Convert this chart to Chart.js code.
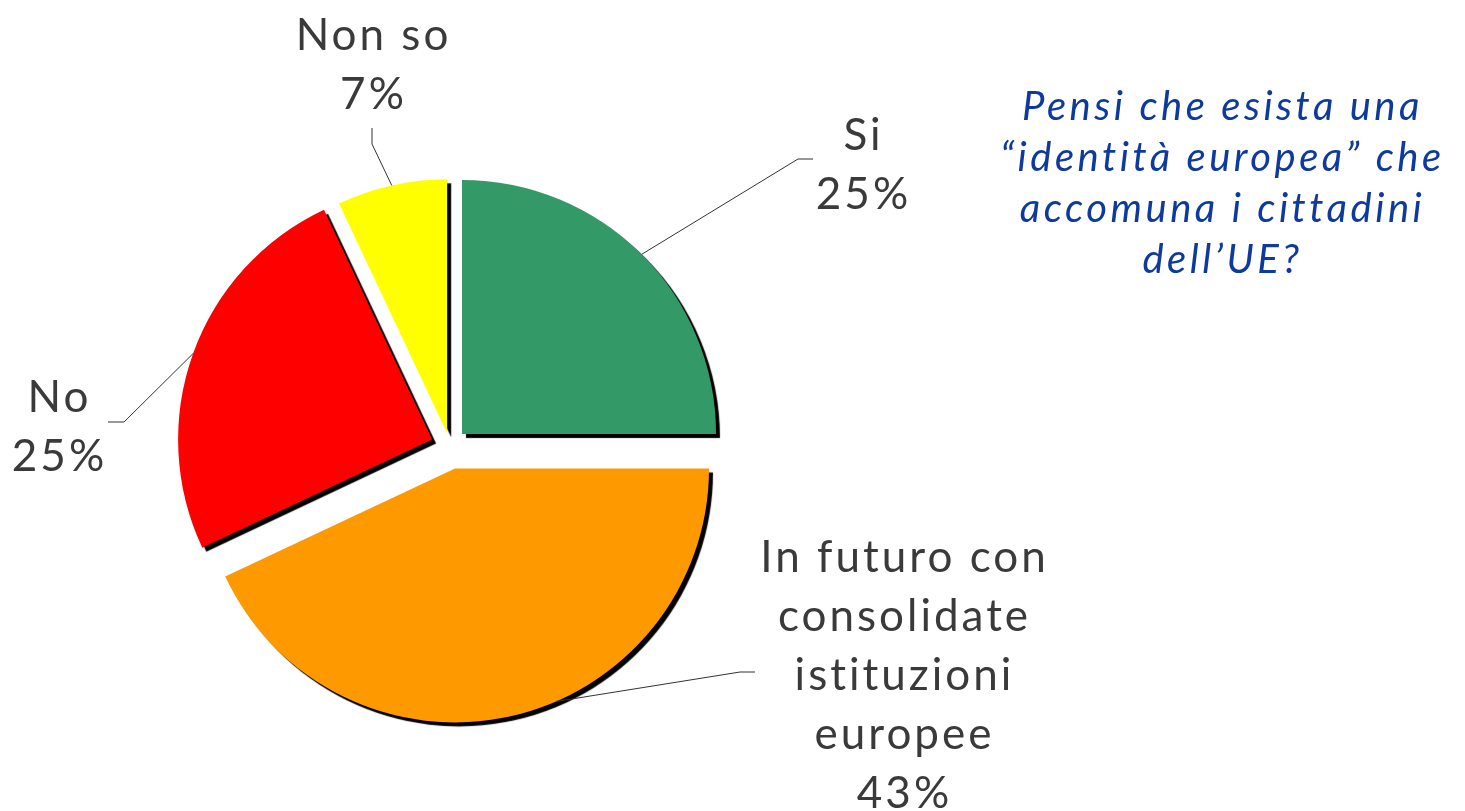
<!DOCTYPE html>
<html>
<head>
<meta charset="utf-8">
<script src="https://cdn.jsdelivr.net/npm/chart.js@4/dist/chart.umd.min.js"></script>
<style>
    html, body { margin: 0; padding: 0; background: #fff; overflow: hidden; }
    #wrap { position: relative; width: 1465px; height: 811px; }
    #chart { position: absolute; left: 0; top: 0; }
    #question {
        position: absolute; left: 975px; top: 80px; width: 495px;
        text-align: center; color: #0d3a9c; letter-spacing: 3.5px;
        font: italic 400 40px Lato, sans-serif; line-height: 51px;
    }
</style>
</head>
<body>
<div id="wrap">
    <canvas id="chart" width="1465" height="811"></canvas>
    <div id="question">Pensi che esista una<br>“identità europea” che<br>accomuna i cittadini<br>dell’UE?</div>
</div>
<script>
// data
const categories = ['Si', 'In futuro con consolidate istituzioni europee', 'No', 'Non so'];
const labelLines = [['Si'], ['In futuro con', 'consolidate', 'istituzioni', 'europee'], ['No'], ['Non so']];
const shares = [25, 43, 25, 7];
const sliceColors = ['#339966', '#ff9900', '#ff0000', '#ffff00'];

// layout of the exploded slices and their callouts
const explode = [17, 23, 19, 13];
const anchorFrac = [0.5, 0.43, 0.5, 0.5];
const callouts = [
    { elbow: [798, 159], end: [813, 159], cx: 862, y0: 150 },
    { elbow: [740, 672], end: [755, 672], cx: 903, y0: 572 },
    { elbow: [124, 422], end: [108, 422], cx: 58, y0: 412 },
    { elbow: [372, 144], end: [372, 128], cx: 372, y0: 50 }
];
const lineStep = 59;

const explodedShadow = {
    id: 'explodedShadow',
    beforeDatasetDraw(chart, args) {
        const ctx = chart.ctx;
        args.meta.data.forEach((arc, i) => {
            const mid = (arc.startAngle + arc.endAngle) / 2;
            ctx.save();
            ctx.translate(Math.cos(mid) * explode[i], Math.sin(mid) * explode[i]);
            ctx.shadowColor = '#000';
            ctx.shadowOffsetX = 4;
            ctx.shadowOffsetY = 4;
            ctx.shadowBlur = 1;
            arc.draw(ctx);
            ctx.restore();
        });
        return false;
    }
};

const callout = {
    id: 'callout',
    afterDatasetsDraw(chart) {
        const ctx = chart.ctx;
        const arcs = chart.getDatasetMeta(0).data;
        ctx.save();
        arcs.forEach((arc, i) => {
            const mid = (arc.startAngle + arc.endAngle) / 2;
            const a = arc.startAngle + (arc.endAngle - arc.startAngle) * anchorFrac[i];
            const sx = arc.x + Math.cos(mid) * explode[i] + Math.cos(a) * arc.outerRadius;
            const sy = arc.y + Math.sin(mid) * explode[i] + Math.sin(a) * arc.outerRadius;
            const c = callouts[i];
            ctx.strokeStyle = '#333';
            ctx.lineWidth = 1;
            ctx.beginPath();
            ctx.moveTo(sx, sy);
            ctx.lineTo(c.elbow[0], c.elbow[1]);
            ctx.lineTo(c.end[0], c.end[1]);
            ctx.stroke();

            const lines = labelLines[i].concat([shares[i] + '%']);
            ctx.fillStyle = '#3a3a3a';
            ctx.font = '400 44px Lato, sans-serif';
            ctx.letterSpacing = '3px';
            ctx.textAlign = 'center';
            ctx.textBaseline = 'alphabetic';
            lines.forEach((t, k) => ctx.fillText(t, c.cx + 1.5, c.y0 + k * lineStep));
        });
        ctx.restore();
    }
};

new Chart(document.getElementById('chart').getContext('2d'), {
    type: 'pie',
    data: {
        labels: categories,
        datasets: [{
            data: shares,
            backgroundColor: sliceColors,
            borderWidth: 0,
            hoverOffset: 0
        }]
    },
    options: {
        responsive: false,
        animation: false,
        events: [],
        radius: 254,
        layout: { padding: { left: 0, right: 565, top: 81, bottom: 0 } },
        plugins: {
            legend: { display: false },
            tooltip: { enabled: false }
        }
    },
    plugins: [explodedShadow, callout]
});
</script>
</body>
</html>
